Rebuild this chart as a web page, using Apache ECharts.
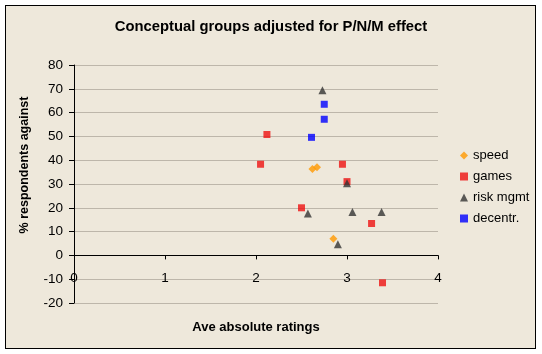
<!DOCTYPE html>
<html>
<head>
<meta charset="utf-8">
<script src="https://cdn.jsdelivr.net/npm/echarts@6/dist/echarts.min.js"></script>
<style>
html,body{margin:0;padding:0;background:#ffffff;}
#frame{position:absolute;left:5px;top:5px;width:529px;height:342px;border:1px solid #000;background:#EEE8DB;}
#chart{position:absolute;left:0;top:0;width:542px;height:354px;}
</style>
</head>
<body>
<div id="frame"></div>
<div id="chart"></div>
<script>
const seriesNames = ['speed', 'games', 'risk mgmt', 'decentr.'];
const speedX = [2.62, 2.67, 2.85];
const speedY = [36.3, 37.0, 7.0];
const gamesX = [2.05, 2.12, 2.50, 2.95, 3.00, 3.27, 3.39];
const gamesY = [38.3, 50.8, 20.0, 38.3, 31.0, 13.4, -11.5];
const riskX = [2.73, 3.00, 2.57, 3.06, 3.38, 2.90];
const riskY = [69.4, 30.3, 17.6, 18.2, 18.2, 4.7];
const decX = [2.75, 2.75, 2.61];
const decY = [63.5, 57.2, 49.6];
const xTicks = [0, 1, 2, 3, 4];
const yTicks = [-20, -10, 0, 10, 20, 30, 40, 50, 60, 70, 80];

function pairs(xs, ys) { return xs.map((x, i) => [x, ys[i]]); }

const chart = echarts.init(document.getElementById('chart'), null, {renderer: 'canvas'});
const font = 'Arial, "Liberation Sans", sans-serif';
const gridTop = 65, gridBottom = 51, chartH = 354;
const plotH = chartH - gridTop - gridBottom;
const yMin = yTicks[0], yMax = yTicks[yTicks.length - 1];
// offset of the x axis so that it crosses y = 0 (negative = inward)
const xAxisOffset = -plotH * (0 - yMin) / (yMax - yMin);

chart.setOption({
  backgroundColor: 'transparent',
  animation: false,
  title: {
    text: 'Conceptual groups adjusted for P/N/M effect',
    left: 'center', top: 14,
    textStyle: {fontFamily: font, fontSize: 14.8, fontWeight: 'bold', color: '#000'}
  },
  grid: {left: 74, right: 104, top: gridTop, bottom: gridBottom},
  legend: {
    orient: 'vertical', left: 455, top: 144,
    itemWidth: 8, itemHeight: 8, itemGap: 8,
    textStyle: {fontFamily: font, fontSize: 13, color: '#000'},
    data: seriesNames
  },
  xAxis: {
    type: 'value', min: xTicks[0], max: xTicks[xTicks.length - 1], interval: 1,
    offset: xAxisOffset,
    axisLine: {onZero: false, lineStyle: {color: '#000', width: 1}},
    axisTick: {show: true, length: 4, lineStyle: {color: '#000'}},
    axisLabel: {margin: 16, fontFamily: font, fontSize: 13.5, color: '#000'},
    splitLine: {show: false}
  },
  yAxis: {
    type: 'value', min: yMin, max: yMax, interval: 10,
    axisLine: {show: true, onZero: false, lineStyle: {color: '#000', width: 1}},
    axisTick: {show: true, length: 5, lineStyle: {color: '#000'}},
    axisLabel: {margin: 11, fontFamily: font, fontSize: 13.5, color: '#000'},
    splitLine: {show: true, lineStyle: {color: '#BDB6AA', width: 1}}
  },
  graphic: [
    {type: 'text', x: 256, y: 327, z: 10, style: {text: 'Ave absolute ratings', font: 'bold 13px ' + font, fill: '#000', align: 'center', verticalAlign: 'middle'}},
    {type: 'text', x: 25, y: 165, rotation: Math.PI / 2, z: 10, style: {text: '% respondents against', font: 'bold 12.5px ' + font, fill: '#000', align: 'center', verticalAlign: 'middle'}}
  ],
  series: [
    {name: seriesNames[0], type: 'scatter', symbol: 'diamond', symbolSize: 8, itemStyle: {color: '#FF9900'}, data: pairs(speedX, speedY)},
    {name: seriesNames[1], type: 'scatter', symbol: 'rect', symbolSize: 7, itemStyle: {color: '#EE1111'}, data: pairs(gamesX, gamesY)},
    {name: seriesNames[2], type: 'scatter', symbol: 'triangle', symbolSize: 8, itemStyle: {color: '#333333'}, data: pairs(riskX, riskY)},
    {name: seriesNames[3], type: 'scatter', symbol: 'rect', symbolSize: 7, itemStyle: {color: '#0000FF'}, data: pairs(decX, decY)}
  ]
});
</script>
</body>
</html>
